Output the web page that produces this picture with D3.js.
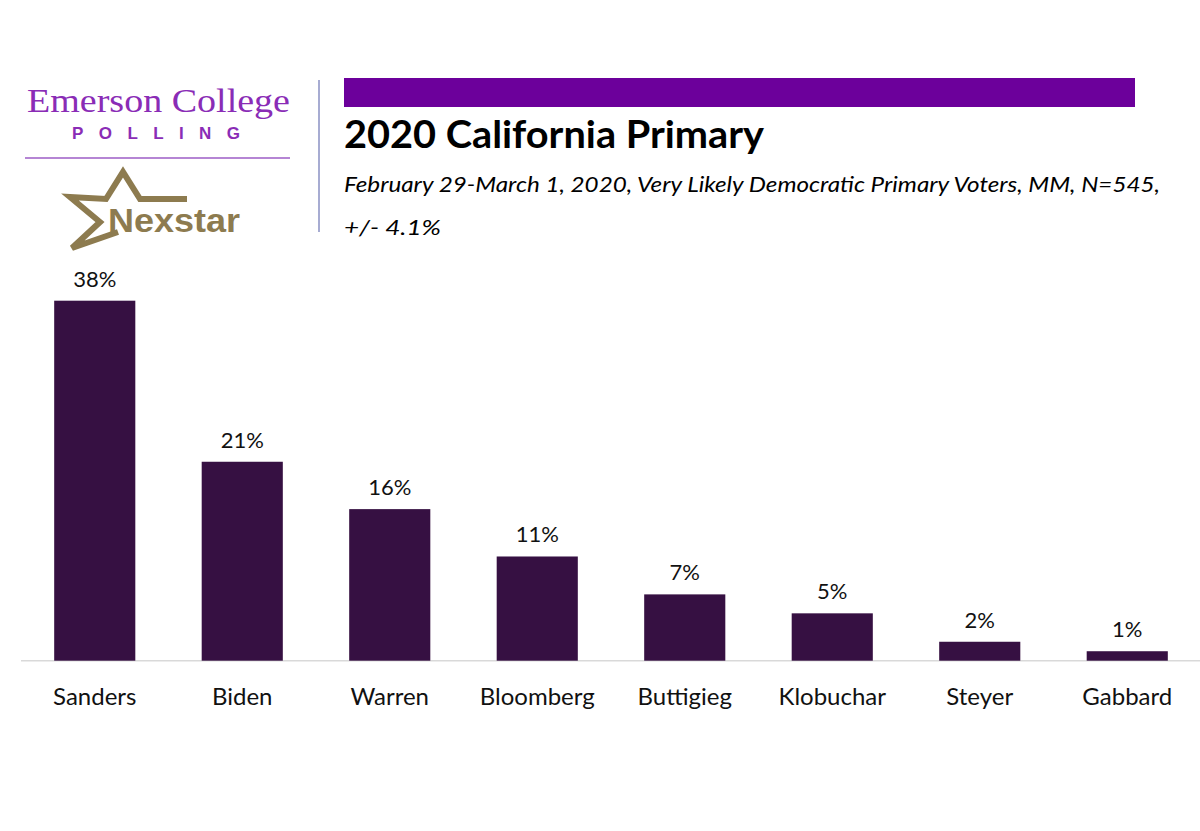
<!DOCTYPE html>
<html>
<head>
<meta charset="utf-8">
<script src="https://cdn.jsdelivr.net/npm/d3@7"></script>
<style>
  body { margin: 0; background: #fff; }
  svg { display: block; }
</style>
</head>
<body>
<svg id="canvas" width="1200" height="831"></svg>
<script>
// poll results
const candidates = ["Sanders", "Biden", "Warren", "Bloomberg", "Buttigieg", "Klobuchar", "Steyer", "Gabbard"];
const shares = [38, 21, 16, 11, 7, 5, 2, 1];

const title = "2020 California Primary";
const subtitleLines = [
    "February 29-March 1, 2020, Very Likely Democratic Primary Voters, MM,  N=545,",
    "+/- 4.1%"
];
const subtitleWidths = [816, 97];

const svg = d3.select('#canvas');
const font = "Lato, 'DejaVu Sans', sans-serif";

svg.append('rect').attr('width', 1200).attr('height', 831).attr('fill', '#fff');

// ---- logo block (left) ----
const logo = svg.append('g').attr('class', 'logo');
logo.append('text')
    .attr('x', 27).attr('y', 112)
    .attr('font-family', "'Liberation Serif', 'Times New Roman', serif")
    .attr('font-size', 34)
    .attr('fill', '#8a2cb6')
    .attr('textLength', 263)
    .attr('lengthAdjust', 'spacingAndGlyphs')
    .text('Emerson College');
logo.append('text')
    .attr('x', 72).attr('y', 139)
    .attr('font-family', "'Liberation Sans', Arial, sans-serif")
    .attr('font-size', 17)
    .attr('font-weight', 'bold')
    .attr('fill', '#8a2cb6')
    .attr('textLength', 168)
    .attr('lengthAdjust', 'spacing')
    .text('POLLING');
logo.append('line')
    .attr('x1', 25).attr('x2', 290)
    .attr('y1', 158).attr('y2', 158)
    .attr('stroke', '#9d5cc6')
    .attr('stroke-width', 1.5);

// nexstar star (outline)
const gold = '#8d7b4f';
logo.append('path')
    .attr('d', 'M187,199 L140,199 L123,172 L106,199 L70,197 L100,222 L72,248 L118,232')
    .attr('fill', 'none')
    .attr('stroke', gold)
    .attr('stroke-width', 6)
    .attr('stroke-linejoin', 'miter');
logo.append('text')
    .attr('x', 108).attr('y', 232)
    .attr('font-family', "'Liberation Sans', Arial, sans-serif")
    .attr('font-weight', 'bold')
    .attr('font-size', 34)
    .attr('fill', gold)
    .attr('textLength', 132)
    .attr('lengthAdjust', 'spacingAndGlyphs')
    .text('Nexstar');

// divider
svg.append('line')
    .attr('x1', 319).attr('x2', 319)
    .attr('y1', 80).attr('y2', 232)
    .attr('stroke', '#a7acd2')
    .attr('stroke-width', 2);

// ---- header (right) ----
svg.append('rect')
    .attr('x', 344).attr('y', 78)
    .attr('width', 791).attr('height', 29)
    .attr('fill', '#6c009b');

svg.append('text')
    .attr('x', 344).attr('y', 148)
    .attr('font-family', font)
    .attr('font-weight', 'bold')
    .attr('font-size', 38)
    .attr('fill', '#000')
    .attr('textLength', 420)
    .attr('lengthAdjust', 'spacingAndGlyphs')
    .text(title);

svg.selectAll('text.sub')
    .data(subtitleLines)
    .join('text')
    .attr('class', 'sub')
    .attr('x', 344)
    .attr('y', (d, i) => 192 + i * 43)
    .attr('font-family', font)
    .attr('font-style', 'italic')
    .attr('font-size', 21)
    .attr('fill', '#000')
    .attr('textLength', (d, i) => subtitleWidths[i])
    .attr('lengthAdjust', 'spacingAndGlyphs')
    .text(d => d);

// ---- bars ----
const x = d3.scaleBand()
    .domain(candidates)
    .range([21, 1201])
    .paddingInner(0.45)
    .paddingOuter(0.225);

const y = d3.scaleLinear()
    .domain([0, 38])
    .range([660.7, 300.7]);

const data = candidates.map((c, i) => ({name: c, value: shares[i]}));

svg.append('line')
    .attr('x1', 21).attr('x2', 1200)
    .attr('y1', y(0)).attr('y2', y(0))
    .attr('stroke', '#d9d9d9')
    .attr('stroke-width', 1.5);

svg.append('g')
    .selectAll('rect')
    .data(data)
    .join('rect')
    .attr('x', d => x(d.name))
    .attr('y', d => y(d.value))
    .attr('width', x.bandwidth())
    .attr('height', d => y(0) - y(d.value))
    .attr('fill', '#361042');

svg.append('g')
    .selectAll('text')
    .data(data)
    .join('text')
    .attr('x', d => x(d.name) + x.bandwidth() / 2)
    .attr('y', d => y(d.value) - 14)
    .attr('text-anchor', 'middle')
    .attr('font-family', font)
    .attr('font-size', 22)
    .attr('fill', '#111')
    .text(d => d.value + '%');

svg.append('g')
    .selectAll('text')
    .data(data)
    .join('text')
    .attr('x', d => x(d.name) + x.bandwidth() / 2)
    .attr('y', 705)
    .attr('text-anchor', 'middle')
    .attr('font-family', font)
    .attr('font-size', 24)
    .attr('fill', '#111')
    .text(d => d.name);
</script>
</body>
</html>
